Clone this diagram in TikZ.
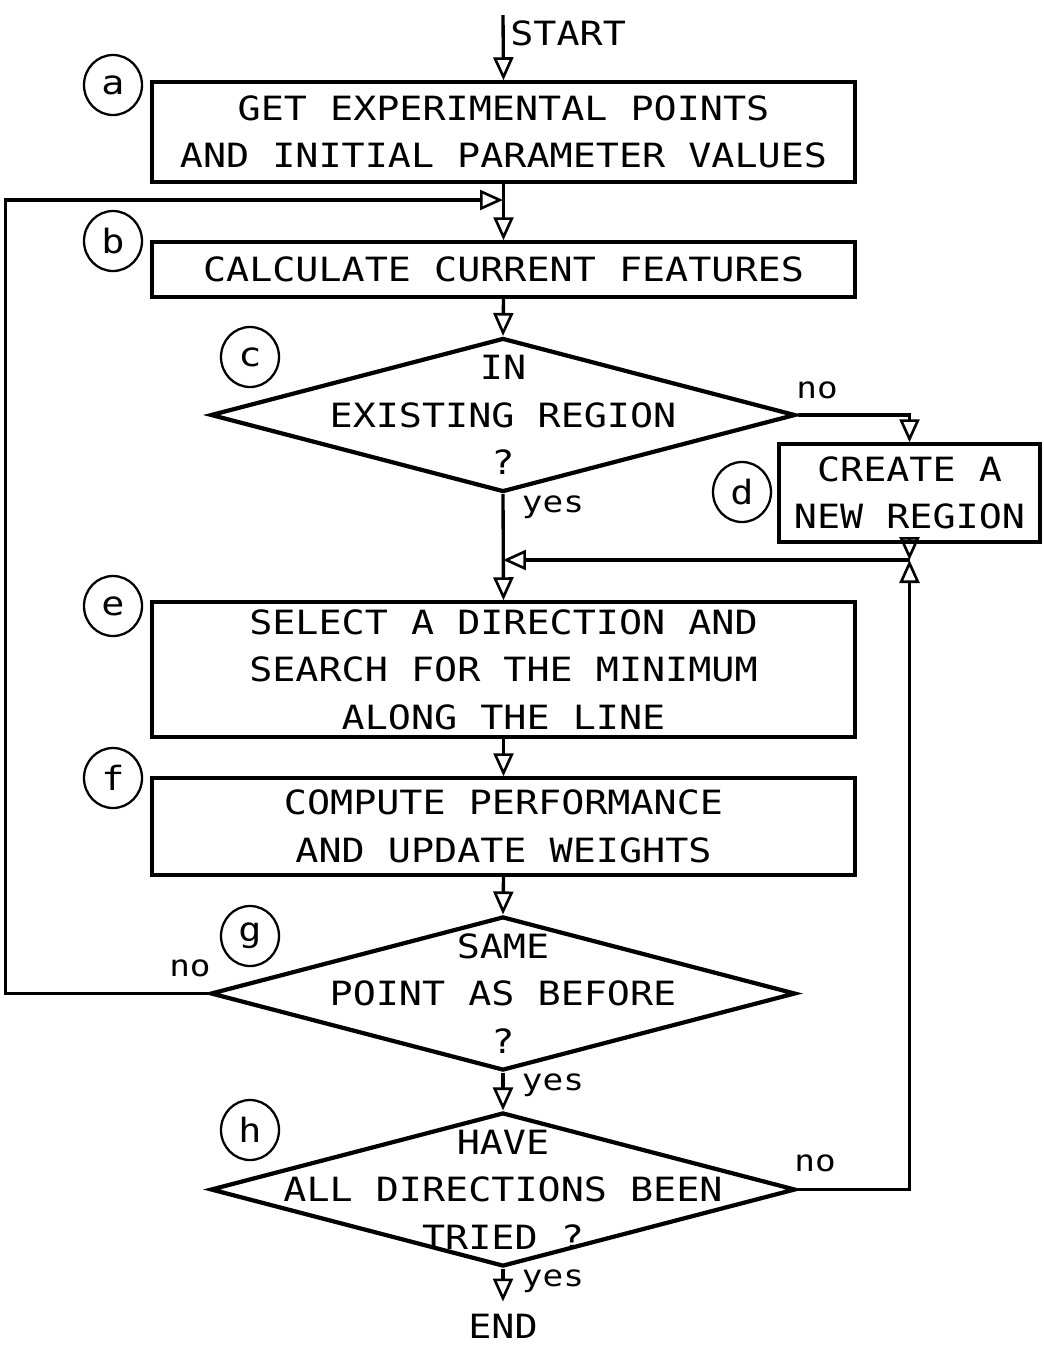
\documentclass[tikz,border=0pt]{standalone}
\usepackage{fontspec}
\newfontfamily\plotfont[FakeStretch=1.15]{DejaVu Sans Mono}
\usetikzlibrary{shapes.geometric,arrows.meta}
\tikzset{
  block/.style={draw,line width=2pt,minimum width=14.06cm,align=center,inner sep=2pt},
  decision/.style={draw,diamond,line width=2.4pt,minimum width=11.7cm,minimum height=3.08cm,inner sep=0pt},
  tag/.style={draw,ellipse,line width=1.3pt,minimum width=1.16cm,minimum height=1.2cm,inner sep=0pt},
  flow/.style={line width=1.9pt,-{Triangle[open,length=0.46cm,width=0.4cm,line width=1.5pt]}},
  answer/.style={font=\plotfont\fontsize{17}{20}\selectfont,inner sep=0pt}
}
\begin{document}
\begin{tikzpicture}[x=0.02cm,y=-0.02cm,font=\plotfont\fontsize{19}{27}\selectfont]
    \useasboundingbox (0,0) rectangle (1044,1350);
    % steps
    \node[block,minimum height=2cm] (a) at (503.5,132) {GET EXPERIMENTAL POINTS\\AND INITIAL PARAMETER VALUES};
    \node[block,minimum height=1.1cm] (b) at (503.5,269.5) {CALCULATE CURRENT FEATURES};
    \node[decision] (c) at (503,415) {};
    \node[align=center] (ctext) at (c) {IN\\EXISTING REGION\\?};
    \node[block,minimum width=5.22cm,minimum height=1.96cm] (d) at (909.5,493) {CREATE A\\NEW REGION};
    \node[block,minimum height=2.7cm] (e) at (503.5,669.5) {SELECT A DIRECTION AND\\SEARCH FOR THE MINIMUM\\ALONG THE LINE};
    \node[block,minimum height=1.94cm] (f) at (503.5,826.5) {COMPUTE PERFORMANCE\\AND UPDATE WEIGHTS};
    \node[decision] (g) at (503,993.5) {};
    \node[align=center] (gtext) at (g) {SAME\\POINT AS BEFORE\\?};
    \node[decision] (h) at (503,1189.5) {};
    \node[align=center] (htext) at (h) {HAVE\\ALL DIRECTIONS BEEN\\TRIED ?};
    \node[anchor=west,inner sep=0pt] (start) at (510,33) {START};
    \node[inner sep=0pt] (end) at (503,1326) {END};
    % letters
    \node[tag] (ta) at (113,85) {a};
    \node[tag] (tb) at (113,241) {b};
    \node[tag] (tc) at (250,357) {c};
    \node[tag] (td) at (742,492) {d};
    \node[tag] (te) at (113,606) {e};
    \node[tag] (tf) at (113,778) {f};
    \node[tag] (tg) at (250,936) {g};
    \node[tag] (th) at (250,1130) {h};
    % answers
    \node[answer] (cno) at (817,390) {no};
    \node[answer] (cyes) at (553,507) {yes};
    \node[answer] (gno) at (190,968) {no};
    \node[answer] (gyes) at (553,1085) {yes};
    \node[answer] (hno) at (815,1163) {no};
    \node[answer] (hyes) at (553,1281) {yes};
    % connectors
    \coordinate (top) at (503,15);
    \coordinate (loop) at (503,200);
    \coordinate (merge) at (503,560);
    \coordinate (dj) at (909.5,560);
    \draw[flow] (top) -- (a.north);
    \draw[flow] (a.south) -- (b.north);
    \draw[flow] (b.south) -- (c.north);
    \draw[flow] (c.east) -| (d.north);
    \draw[flow] (c.south) -- (e.north);
    \draw[flow] (d.south) -- (dj);
    \draw[flow] (dj) -- (merge);
    \draw[flow] (e.south) -- (f.north);
    \draw[flow] (f.south) -- (g.north);
    \draw[flow] (g.west) -- ++(-203,0) |- (loop);
    \draw[flow] (g.south) -- (h.north);
    \draw[flow] (h.east) -| (dj);
    \draw[flow] (h.south) -- ([yshift=0.24cm]end.north);
\end{tikzpicture}
\end{document}
